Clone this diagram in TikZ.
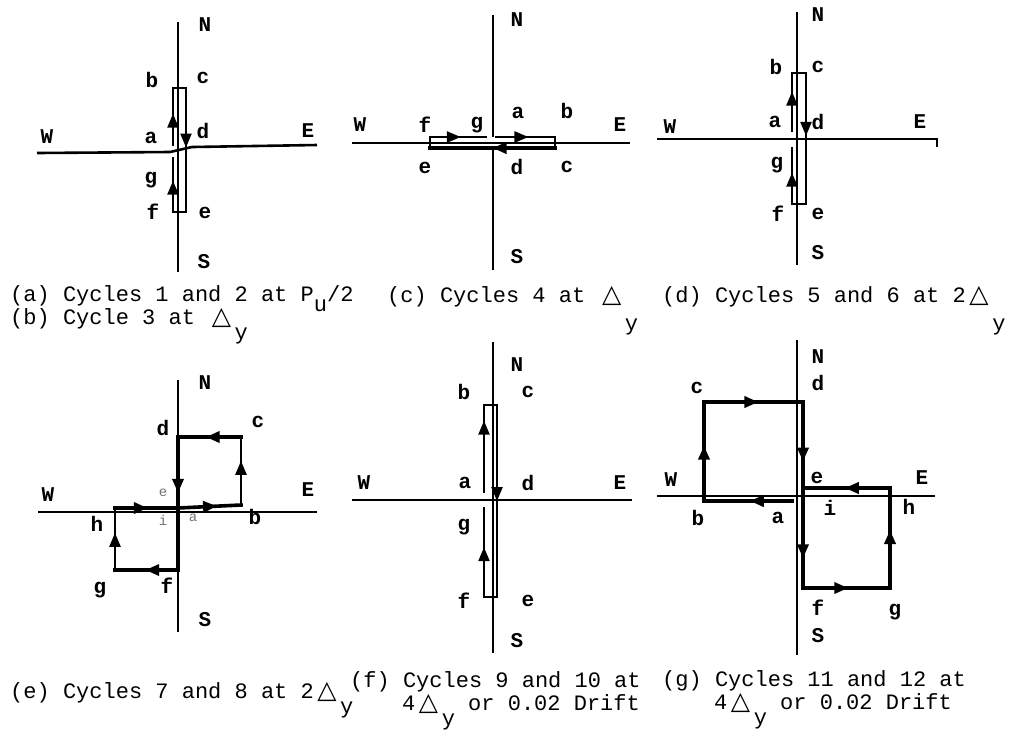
\documentclass[tikz,border=0pt]{standalone}
\usepackage{fontspec}
\setmonofont{Liberation Mono}
\newfontfamily\symfont{DejaVu Sans}
\usepackage{tikz}
\usetikzlibrary{positioning, decorations.markings, arrows.meta}

% triangle sign (two typewriter columns) and a lowered letter
\newcommand{\tri}{\makebox[26.4pt]{\symfont\fontsize{25}{25}\selectfont △}}
\newcommand{\lowr}[2][15pt]{\raisebox{-#1}{#2}}

\tikzset{
  axis/.style={line width=2.6pt},
  loopline/.style={line width=2.3pt, line cap=rect},
  heavy/.style={line width=3.6pt, line cap=rect},
  lbl/.style={font=\ttfamily\bfseries\fontsize{21}{21}\selectfont, inner sep=0pt},
  faint/.style={font=\ttfamily\fontsize{14}{14}\selectfont, inner sep=0pt, text=black!55},
  captext/.style={font=\ttfamily\fontsize{22}{23}\selectfont, anchor=base west, inner sep=0pt},
  arrowat/.style={postaction={decorate}, decoration={markings,
      mark=at position #1 with {\arrow{Triangle[length=14pt,width=11pt]}}}},
  arrowpair/.style 2 args={postaction={decorate}, decoration={markings,
      mark=at position #1 with {\arrow{Triangle[length=14pt,width=11pt]}},
      mark=at position #2 with {\arrow{Triangle[length=14pt,width=11pt]}}}},
}

\begin{document}
\begin{tikzpicture}[x=1pt, y=-1pt]

    \fill[white] (0,0) rectangle (1009,740);
    \useasboundingbox (0,0) rectangle (1009,740);

    % =================================================================
    % 1. PANEL (a)/(b)
    % =================================================================
    \coordinate (aW) at (37,153);
    \coordinate (aO1) at (170,152);
    \coordinate (aO2) at (192,147);
    \coordinate (aE) at (317,145);
    \coordinate (aN) at (178,22);
    \coordinate (aS) at (178,272);
    \coordinate (a1) at (173,145);
    \coordinate (a2) at (173,88);
    \coordinate (a3) at (186,88);
    \coordinate (a4) at (186,212);
    \coordinate (a5) at (173,212);
    \coordinate (a6) at (173,158);

    \draw[axis] (aW) -- (aO1) -- (aO2) -- (aE);
    \draw[axis] (aN) -- (aS);

    \draw[loopline, arrowat=0.55] (a1) -- (a2);
    \draw[loopline] (a2) -- (a3);
    \draw[loopline, arrowat=0.48] (a3) -- (a4);
    \draw[loopline] (a4) -- (a5);
    \draw[loopline, arrowat=0.58] (a5) -- (a6);

    \node[lbl] (aNt) at (205,25) {N};
    \node[lbl] (aSt) at (204,262) {S};
    \node[lbl] (aWt) at (47,137) {W};
    \node[lbl] (aEt) at (308,131) {E};
    \node[lbl] (aat) at (151,138) {a};
    \node[lbl] (abt) at (152,80) {b};
    \node[lbl] (act) at (203,78) {c};
    \node[lbl] (adt) at (203,131) {d};
    \node[lbl] (aet) at (205,213) {e};
    \node[lbl] (aft) at (153,212) {f};
    \node[lbl] (agt) at (151,180) {g};

    \node[captext] (capa) at (10,301) {(a) Cycles 1 and 2 at P\lowr[10pt]{u}/2};
    \node[captext] (capb) at (10,324) {(b) Cycle 3 at \tri\lowr{y}};

    % =================================================================
    % 2. PANEL (c)
    % =================================================================
    \coordinate (cW) at (352,143);
    \coordinate (cE) at (630,143);
    \coordinate (cN) at (493,15);
    \coordinate (cNe) at (493,137);
    \coordinate (cSe) at (493,149);
    \coordinate (cS) at (493,270);
    \coordinate (c1) at (496,137);
    \coordinate (c2) at (555,137);
    \coordinate (c3) at (555,148);
    \coordinate (c4) at (430,148);
    \coordinate (c5) at (430,137);
    \coordinate (c6) at (486,137);

    \draw[axis] (cW) -- (cE);
    \draw[axis] (cN) -- (cNe);
    \draw[axis] (cSe) -- (cS);

    \draw[loopline, arrowat=0.55] (c1) -- (c2);
    \draw[loopline] (c2) -- (c3);
    \draw[heavy, arrowat=0.5] (c3) -- (c4);
    \draw[loopline] (c4) -- (c5);
    \draw[loopline, arrowat=0.55] (c5) -- (c6);

    \node[lbl] (cNt) at (517,20) {N};
    \node[lbl] (cSt) at (517,257) {S};
    \node[lbl] (cWt) at (360,125) {W};
    \node[lbl] (cEt) at (620,125) {E};
    \node[lbl] (cat) at (518,113) {a};
    \node[lbl] (cbt) at (567,111) {b};
    \node[lbl] (cct) at (567,167) {c};
    \node[lbl] (cdt) at (517,167) {d};
    \node[lbl] (cet) at (425,168) {e};
    \node[lbl] (cft) at (425,125) {f};
    \node[lbl] (cgt) at (477,125) {g};

    \node[captext] (capc) at (387,302) {(c) Cycles 4 at \tri\lowr[28pt]{y}};

    % =================================================================
    % 3. PANEL (d)
    % =================================================================
    \coordinate (dW) at (657,139);
    \coordinate (dE) at (937,139);
    \coordinate (dT) at (937,147);
    \coordinate (dN) at (797,12);
    \coordinate (dS) at (797,265);
    \coordinate (d1) at (792,131);
    \coordinate (d2) at (792,73);
    \coordinate (d3) at (806,73);
    \coordinate (d4) at (806,204);
    \coordinate (d5) at (792,204);
    \coordinate (d6) at (792,148);

    \draw[axis] (dW) -- (dE) -- (dT);
    \draw[axis] (dN) -- (dS);

    \draw[loopline, arrowat=0.68] (d1) -- (d2);
    \draw[loopline] (d2) -- (d3);
    \draw[loopline, arrowat=0.48] (d3) -- (d4);
    \draw[loopline] (d4) -- (d5);
    \draw[loopline, arrowat=0.56] (d5) -- (d6);

    \node[lbl] (dNt) at (818,15) {N};
    \node[lbl] (dSt) at (818,253) {S};
    \node[lbl] (dWt) at (670,127) {W};
    \node[lbl] (dEt) at (920,122) {E};
    \node[lbl] (dat) at (775,122) {a};
    \node[lbl] (dbt) at (776,67) {b};
    \node[lbl] (dct) at (818,67) {c};
    \node[lbl] (ddt) at (818,122) {d};
    \node[lbl] (det) at (818,214) {e};
    \node[lbl] (dft) at (778,214) {f};
    \node[lbl] (dgt) at (777,165) {g};

    \node[captext] (capd) at (662,302) {(d) Cycles 5 and 6 at 2\tri\lowr[28pt]{y}};

    % =================================================================
    % 4. PANEL (e)
    % =================================================================
    \coordinate (eW) at (38,512);
    \coordinate (eE) at (317,512);
    \coordinate (eN) at (178,380);
    \coordinate (eS) at (178,632);
    \coordinate (e1) at (178,508);
    \coordinate (e2) at (241,505);
    \coordinate (e3) at (241,437);
    \coordinate (e4) at (178,437);
    \coordinate (e6) at (178,570);
    \coordinate (e7) at (115,570);
    \coordinate (e8) at (115,508);

    \draw[axis] (eW) -- (eE);
    \draw[axis] (eN) -- (eS);

    \draw[heavy, arrowat=0.62] (e1) -- (e2);
    \draw[loopline, arrowat=0.65] (e2) -- (e3);
    \draw[heavy, arrowat=0.56] (e3) -- (e4);
    \draw[heavy, arrowat=0.42] (e4) -- (e6);
    \draw[heavy, arrowat=0.52] (e6) -- (e7);
    \draw[loopline, arrowat=0.6] (e7) -- (e8);
    \draw[heavy, arrowat=0.52] (e8) -- (e1);

    \node[lbl] (eNt) at (205,383) {N};
    \node[lbl] (eSt) at (205,620) {S};
    \node[lbl] (eWt) at (48,495) {W};
    \node[lbl] (eEt) at (308,490) {E};
    \node[faint] (eat) at (193,518) {a};
    \node[lbl] (ebt) at (255,517) {b};
    \node[lbl] (ect) at (258,422) {c};
    \node[lbl] (edt) at (163,428) {d};
    \node[faint] (eet) at (163,493) {e};
    \node[lbl] (eft) at (167,586) {f};
    \node[lbl] (egt) at (100,590) {g};
    \node[lbl] (eht) at (97,524) {h};
    \node[faint] (eit) at (163,520) {i};

    \node[captext] (cape) at (10,698) {(e) Cycles 7 and 8 at 2\tri\lowr{y}};

    % =================================================================
    % 5. PANEL (f)
    % =================================================================
    \coordinate (fW) at (352,500);
    \coordinate (fE) at (632,500);
    \coordinate (fN) at (493,342);
    \coordinate (fS) at (493,653);
    \coordinate (f1) at (484,492);
    \coordinate (f2) at (484,405);
    \coordinate (f3) at (497,405);
    \coordinate (f4) at (497,597);
    \coordinate (f5) at (484,597);
    \coordinate (f6) at (484,508);

    \draw[axis] (fW) -- (fE);
    \draw[axis] (fN) -- (fS);

    \draw[loopline, arrowat=0.82] (f1) -- (f2);
    \draw[loopline] (f2) -- (f3);
    \draw[loopline, arrowat=0.5] (f3) -- (f4);
    \draw[loopline] (f4) -- (f5);
    \draw[loopline, arrowat=0.56] (f5) -- (f6);

    \node[lbl] (fNt) at (517,365) {N};
    \node[lbl] (fSt) at (517,641) {S};
    \node[lbl] (fWt) at (364,483) {W};
    \node[lbl] (fEt) at (620,483) {E};
    \node[lbl] (fat) at (465,483) {a};
    \node[lbl] (fbt) at (464,392) {b};
    \node[lbl] (fct) at (528,392) {c};
    \node[lbl] (fdt) at (528,483) {d};
    \node[lbl] (fet) at (528,601) {e};
    \node[lbl] (fft) at (464,601) {f};
    \node[lbl] (fgt) at (464,527) {g};

    \node[captext] (capf) at (350,687) {(f) Cycles 9 and 10 at};
    \node[captext] (capf2) at (402,710) {4\tri\lowr{y} or 0.02 Drift};

    % =================================================================
    % 6. PANEL (g)
    % =================================================================
    \coordinate (gW) at (657,496);
    \coordinate (gE) at (935,496);
    \coordinate (gN) at (797,340);
    \coordinate (gS) at (797,655);
    \coordinate (g1) at (792,501);
    \coordinate (g2) at (704,501);
    \coordinate (g3) at (704,402);
    \coordinate (g4) at (803,402);
    \coordinate (g6) at (803,588);
    \coordinate (g7) at (890,588);
    \coordinate (g8) at (890,488);
    \coordinate (g5) at (803,488);

    \draw[axis] (gW) -- (gE);
    \draw[axis] (gN) -- (gS);

    \draw[heavy, arrowat=0.48] (g1) -- (g2);
    \draw[heavy, arrowat=0.56] (g2) -- (g3);
    \draw[heavy, arrowat=0.55] (g3) -- (g4);
    \draw[heavy, arrowpair={0.32}{0.84}] (g4) -- (g6);
    \draw[heavy, arrowat=0.52] (g6) -- (g7);
    \draw[heavy, arrowat=0.58] (g7) -- (g8);
    \draw[heavy, arrowat=0.52] (g8) -- (g5);

    \node[lbl] (gNt) at (818,357) {N};
    \node[lbl] (gSt) at (818,636) {S};
    \node[lbl] (gWt) at (671,480) {W};
    \node[lbl] (gEt) at (922,478) {E};
    \node[lbl] (gat) at (778,518) {a};
    \node[lbl] (gbt) at (698,518) {b};
    \node[lbl] (gct) at (697,388) {c};
    \node[lbl] (gdt) at (818,383) {d};
    \node[lbl] (get) at (817,478) {e};
    \node[lbl] (gft) at (818,608) {f};
    \node[lbl] (ggt) at (895,612) {g};
    \node[lbl] (ght) at (909,507) {h};
    \node[lbl] (git) at (830,508) {i};

    \node[captext] (capg) at (662,686) {(g) Cycles 11 and 12 at};
    \node[captext] (capg2) at (714,709) {4\tri\lowr{y} or 0.02 Drift};

\end{tikzpicture}
\end{document}
